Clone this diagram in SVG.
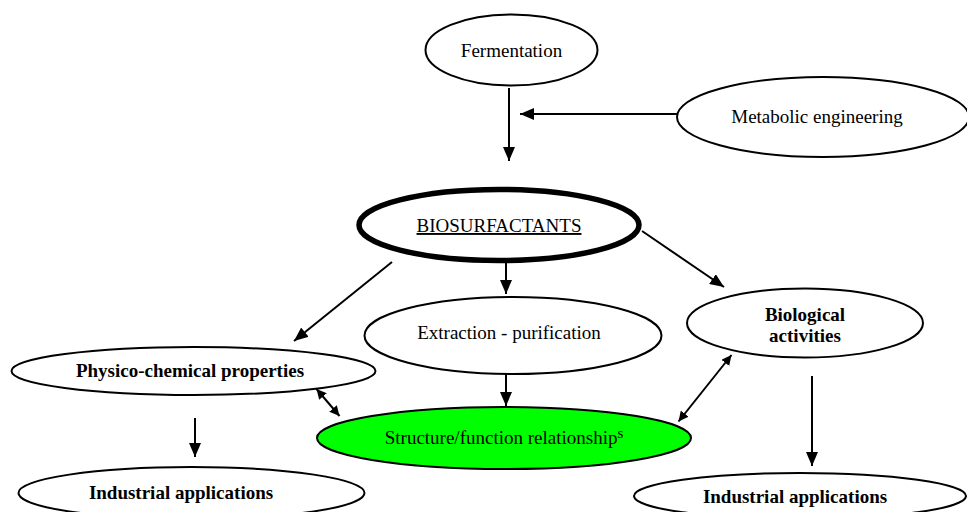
<svg xmlns="http://www.w3.org/2000/svg" width="967" height="512" viewBox="0 0 967 512">
<style>
.n{fill:#fff;stroke:#000;stroke-width:2}
.t{font-family:"Liberation Serif","Times New Roman",serif;font-size:19px;fill:#000;text-anchor:middle}
.b{font-weight:bold}
.c line{stroke:#000;stroke-width:2;fill:none}
</style>
<defs>
<marker id="a" markerUnits="userSpaceOnUse" viewBox="0 0 14 12" markerWidth="14" markerHeight="12" refX="14" refY="6" orient="auto"><path d="M0,0L14,6L0,12z" fill="#000"/></marker>
<marker id="s" markerUnits="userSpaceOnUse" viewBox="0 0 10 10" markerWidth="10" markerHeight="10" refX="10" refY="5" orient="auto-start-reverse"><path d="M0,0L10,5L0,10z" fill="#000"/></marker>
</defs>
<rect width="967" height="512" fill="#fff"/>
<g id="fermentation"><ellipse class="n" cx="511.5" cy="50" rx="86" ry="35.5"/><text class="t" x="511.5" y="57">Fermentation</text></g>
<g id="metabolic"><ellipse class="n" cx="823" cy="117" rx="146" ry="40"/><text class="t" x="817" y="123">Metabolic engineering</text></g>
<g id="biosurfactants"><ellipse cx="499" cy="225" rx="140" ry="35.5" fill="#fff" stroke="#000" stroke-width="5.5"/><text class="t" x="499" y="232" text-decoration="underline">BIOSURFACTANTS</text></g>
<g id="extraction"><ellipse class="n" cx="513" cy="335.5" rx="148.5" ry="38.5"/><text class="t" x="509" y="339" font-size="21">Extraction - purification</text></g>
<g id="biological"><ellipse class="n" cx="805" cy="323" rx="118" ry="34.5"/><text class="t b" x="805" y="321">Biological</text><text class="t b" x="805" y="342">activities</text></g>
<g id="physico"><ellipse class="n" cx="193.5" cy="371" rx="182" ry="24"/><text class="t b" x="190" y="377">Physico-chemical properties</text></g>
<g id="structure"><ellipse cx="504" cy="438" rx="187" ry="31" fill="#00ff00" stroke="#000" stroke-width="2"/><text class="t" x="504" y="444">Structure/function relationship<tspan font-size="15" dy="-6">s</tspan></text></g>
<g id="industrial-left"><ellipse class="n" cx="191.5" cy="493" rx="173" ry="26"/><text class="t b" x="181" y="499" font-size="21">Industrial applications</text></g>
<g id="industrial-right"><ellipse class="n" cx="800" cy="496" rx="166" ry="23"/><text class="t b" x="795" y="503" font-size="21">Industrial applications</text></g>
<g class="c" id="connectors">
<line x1="509" y1="88" x2="509" y2="161" marker-end="url(#a)"/>
<line x1="677" y1="114" x2="520" y2="114" marker-end="url(#a)"/>
<line x1="506" y1="263" x2="506" y2="294" marker-end="url(#a)"/>
<line x1="392" y1="262" x2="294" y2="341" marker-end="url(#a)"/>
<line x1="642" y1="231" x2="724" y2="287" marker-end="url(#a)"/>
<line x1="506" y1="374" x2="506" y2="406" marker-end="url(#a)"/>
<line x1="195" y1="418" x2="195" y2="457" marker-end="url(#a)"/>
<line x1="812" y1="376" x2="812" y2="466" marker-end="url(#a)"/>
<line x1="316.5" y1="389" x2="339.5" y2="416" marker-start="url(#s)" marker-end="url(#s)"/>
<line x1="731.5" y1="355" x2="678.5" y2="421.5" marker-start="url(#s)" marker-end="url(#s)" stroke-width="1.6"/>
</g>
</svg>
